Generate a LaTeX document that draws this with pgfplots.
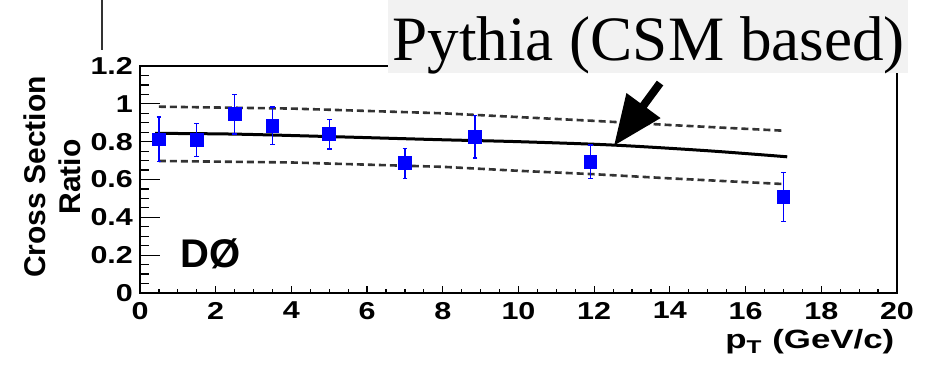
\documentclass[border=0pt]{standalone}
\usepackage{fontspec}
\setmainfont{Liberation Sans}
\newfontfamily\seriffont{Liberation Serif}
\newfontfamily\wsans[FakeStretch=1.25]{Liberation Sans}
\newfontfamily\xsans[FakeStretch=1.32]{Liberation Sans}
\usepackage{pgfplots}
\pgfplotsset{compat=1.18}
\usetikzlibrary{arrows.meta}
\definecolor{boxgray}{RGB}{242,242,242}
\pgfplotsset{rootaxis/.style={
  at={(70pt,36.5pt)}, anchor=south west,
  scale only axis, width=378.5pt, height=113.5pt,
  xmin=0, xmax=20, ymin=0, ymax=1.2,
  clip=false,
  axis line style={line width=0.8pt},
  tick pos=left, tick align=inside,
  minor tick num=3,
  /pgf/number format/assume math mode=true,
  /pgf/number format/fixed,
  ticklabel style={font=\wsans\bfseries\fontsize{12.2}{14}\selectfont},
  tick style={line width=0.6pt, black},
}}
\begin{document}
\begin{tikzpicture}
\path[use as bounding box] (0,0) rectangle (464pt,183pt);
\draw[line width=0.8pt, black!80] (51pt,183pt) -- (51pt,158pt);
\begin{axis}[rootaxis,
  axis line style={draw=none},
  ytick=\empty,
  xtick={0,2,4,6,8,10,12,14,16,18,20},
  major tick length=3.5pt, minor tick length=2pt,
  xticklabel style={yshift=-1pt},
]
\end{axis}
\begin{axis}[rootaxis,
  xtick=\empty,
  ytick={0,0.2,0.4,0.6,0.8,1,1.2},
  major tick length=10pt, minor tick length=4.5pt,
  xlabel={p\textsubscript{T} (GeV/c)},
  xlabel style={at={(axis description cs:0.997,-0.245)}, anchor=base east, inner sep=0pt, font=\xsans\bfseries\fontsize{13.2}{15}\selectfont},
  ylabel={Cross Section\\Ratio},
  ylabel style={at={(axis description cs:-0.116,0.511)}, anchor=center, align=center, font=\bfseries\fontsize{15}{17.5}\selectfont},
]
\addplot[black, line width=1.5pt, smooth] coordinates {
 (0.4,0.844) (2.5,0.840) (5,0.827) (8,0.810) (10,0.800) (12.5,0.782) (15,0.752) (17.1,0.720)};
\addplot[black!80, line width=1.3pt, dash pattern=on 3.5pt off 2pt] coordinates {
 (0.5,0.985) (4,0.975) (8,0.950) (10,0.930) (12,0.910) (14,0.888) (17,0.858)};
\addplot[black!80, line width=1.3pt, dash pattern=on 3.5pt off 2pt] coordinates {
 (0.5,0.698) (4,0.690) (8,0.667) (10,0.646) (12,0.628) (14,0.606) (17,0.576)};
\addplot[only marks, mark=square*, mark size=3.2pt, color=blue, mark options={fill=blue, draw=blue},
  error bars/.cd, y dir=both, y explicit,
  error bar style={blue, line width=0.6pt},
  error mark options={blue, mark size=1.2pt, line width=0.6pt, rotate=90}]
 coordinates {
 (0.5,0.812) +- (0,0.118)
 (1.5,0.809) +- (0,0.087)
 (2.5,0.946) +- (0,0.105)
 (3.5,0.883) +- (0,0.100)
 (5,0.840) +- (0,0.079)
 (7,0.686) +- (0,0.079)
 (8.85,0.826) +- (0,0.112)
 (11.9,0.694) +- (0,0.088)
 (17,0.506) +- (0,0.130)
};
\node[anchor=base west, font=\bfseries\fontsize{20}{24}\selectfont, inner sep=0pt] at (axis cs:1.06,0.137) {DØ};
\draw[line width=4pt, -{Triangle[length=25pt,width=20pt]}] (axis cs:13.74,1.11) -- (axis cs:12.52,0.778);
\end{axis}
\fill[boxgray] (194pt,146.5pt) rectangle (454pt,183pt);
\node[anchor=base west, inner sep=0pt, font=\seriffont\fontsize{31.6}{36}\selectfont] at (196pt,153pt) {Pythia (CSM based)};
\end{tikzpicture}
\end{document}
